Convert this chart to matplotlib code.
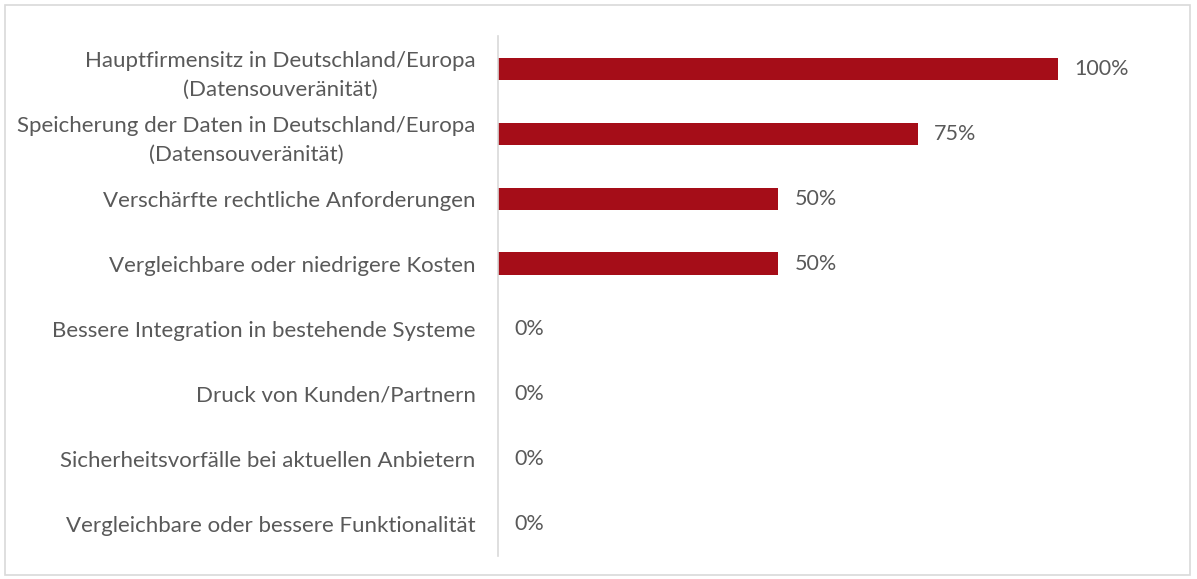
import matplotlib.pyplot as plt
from matplotlib.patches import Rectangle

# ── Data ──────────────────────────────────────────────────────────────────────
categories = [
    'Hauptfirmensitz in Deutschland/Europa\n(Datensouveränität)',
    'Speicherung der Daten in Deutschland/Europa\n(Datensouveränität)',
    'Verschärfte rechtliche Anforderungen',
    'Vergleichbare oder niedrigere Kosten',
    'Bessere Integration in bestehende Systeme',
    'Druck von Kunden/Partnern',
    'Sicherheitsvorfälle bei aktuellen Anbietern',
    'Vergleichbare oder bessere Funktionalität',
]
values = [100, 75, 50, 50, 0, 0, 0, 0]

BAR_COLOR  = '#A50D18'
TEXT_COLOR = '#595959'

plt.rcParams['font.family'] = ['Lato', 'DejaVu Sans']

fig = plt.figure(figsize=(11.97, 5.79), dpi=100)
ax = fig.add_axes([0.416, 0.0397, 0.561, 0.898])

y = list(range(len(categories)))
ax.barh(y, values, height=0.34, color=BAR_COLOR)
ax.set_xlim(0, 120)
ax.set_ylim(len(categories) - 0.5, -0.5)

for yi, v in zip(y, values):
    ax.annotate(f'{v}%', xy=(v, yi), xytext=(12, 0), textcoords='offset points',
                ha='left', va='center', fontsize=15.5, color=TEXT_COLOR)

ax.set_yticks(y)
ax.set_yticklabels(categories, fontsize=16, color=TEXT_COLOR, ha='right',
                   multialignment='center', linespacing=1.55)
ax.tick_params(axis='y', length=0, pad=16)
ax.set_xticks([])
for s in ['top', 'right', 'bottom']:
    ax.spines[s].set_visible(False)
ax.spines['left'].set_color('#d9d9d9')
ax.spines['left'].set_linewidth(1.2)

# ── Outer frame ───────────────────────────────────────────────────────────────
fig.patches.append(Rectangle((0.004, 0.007), 0.99, 0.985, transform=fig.transFigure,
                             fill=False, edgecolor='#d9d9d9', linewidth=1.2))

fig.savefig('out.png', dpi=100)
